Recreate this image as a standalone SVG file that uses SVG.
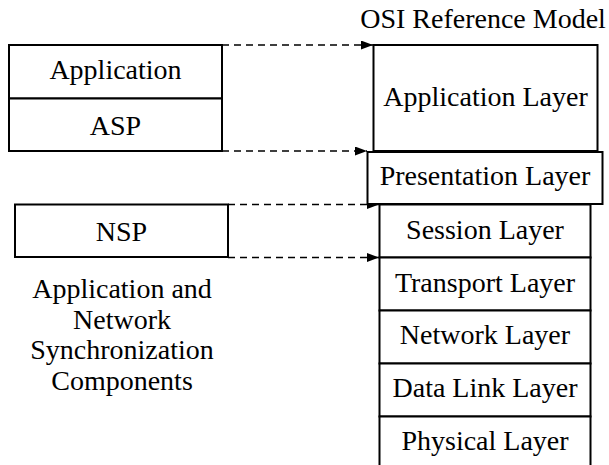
<svg xmlns="http://www.w3.org/2000/svg" width="609" height="465" viewBox="0 0 609 465">
<defs>
<style>
.box{fill:#fff;stroke:#000;stroke-width:2}
.t{font-family:"Liberation Serif","Times New Roman",serif;font-size:28px;fill:#000;text-anchor:middle}
.c{fill:none;stroke:#000;stroke-width:1.3;stroke-dasharray:7 5}
</style>
<marker id="ah" markerUnits="userSpaceOnUse" markerWidth="13" markerHeight="10" refX="12" refY="4.5" orient="auto">
<path d="M0,0 L12,4.5 L0,9 Z" fill="#000"/>
</marker>
</defs>
<rect width="609" height="465" fill="#fff"/>
<text class="t" x="483" y="28">OSI Reference Model</text>
<g id="connectors">
<line class="c" x1="222" y1="45" x2="373" y2="45" marker-end="url(#ah)"/>
<line class="c" x1="222" y1="151" x2="367" y2="151" marker-end="url(#ah)"/>
<line class="c" x1="228" y1="204.5" x2="379" y2="204.5" marker-end="url(#ah)"/>
<line class="c" x1="228" y1="257.5" x2="379" y2="257.5" marker-end="url(#ah)"/>
</g>
<g id="application"><rect class="box" x="9" y="45" width="213" height="53.5"/><text class="t" x="115.5" y="79">Application</text></g>
<g id="asp"><rect class="box" x="9" y="98.5" width="213" height="52.5"/><text class="t" x="115.5" y="134.5">ASP</text></g>
<g id="nsp"><rect class="box" x="15" y="204.5" width="213" height="52.5"/><text class="t" x="121.5" y="240.5">NSP</text></g>
<g id="caption">
<text class="t" x="122" y="298">Application and</text>
<text class="t" x="122" y="328.5">Network</text>
<text class="t" x="122" y="359">Synchronization</text>
<text class="t" x="122" y="389.5">Components</text>
</g>
<g id="app-layer"><rect class="box" x="373.5" y="45" width="224" height="106"/><text class="t" x="485.5" y="106">Application Layer</text></g>
<g id="session-layer"><rect class="box" x="379.5" y="204.5" width="211" height="53"/><text class="t" x="485" y="238.5">Session Layer</text></g>
<g id="transport-layer"><rect class="box" x="379.5" y="257.5" width="211" height="53"/><text class="t" x="485" y="291.5">Transport Layer</text></g>
<g id="network-layer"><rect class="box" x="379.5" y="310.5" width="211" height="53"/><text class="t" x="485" y="344">Network Layer</text></g>
<g id="datalink-layer"><rect class="box" x="379.5" y="363.5" width="211" height="53"/><text class="t" x="485" y="396.5">Data Link Layer</text></g>
<g id="physical-layer"><rect class="box" x="379.5" y="416.5" width="211" height="53"/><text class="t" x="485" y="450">Physical Layer</text></g>
<g id="presentation-layer"><rect class="box" x="367.5" y="152" width="235" height="52"/><text class="t" x="485" y="185">Presentation Layer</text></g>
</svg>
